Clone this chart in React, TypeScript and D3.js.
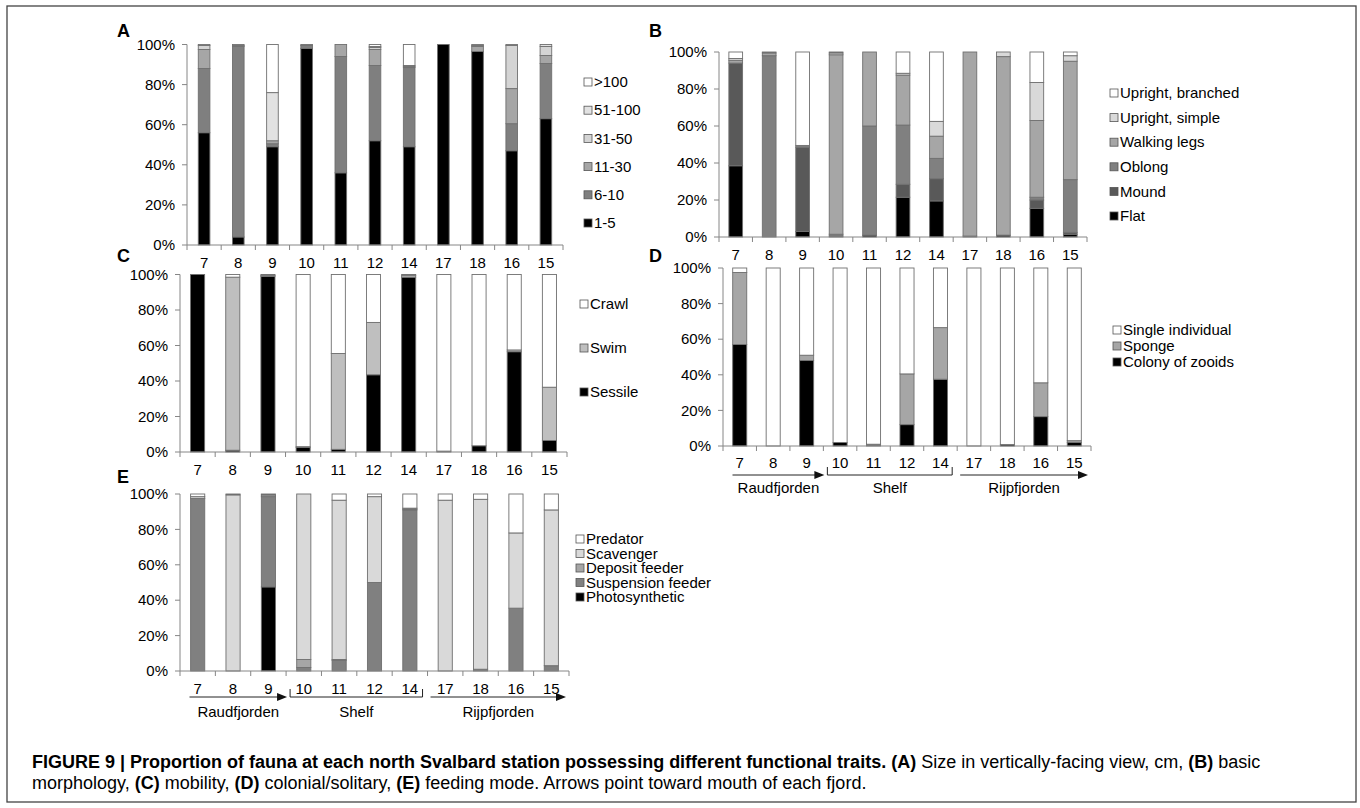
import React from "react";
import * as d3 from "d3";

// stations in plotted order
const STATIONS = ["7", "8", "9", "10", "11", "12", "14", "17", "18", "16", "15"];

// (A) size in vertically-facing view, cm
const SIZE_1_5 = [56, 4, 49, 98, 36, 52, 49, 100, 96.5, 47, 63];
const SIZE_6_10 = [32, 95, 1.5, 1.5, 58, 37.5, 39.5, 0, 0, 13.5, 27.5];
const SIZE_11_30 = [9.5, 0.5, 1.5, 0.5, 6, 8, 0.5, 0, 2.5, 17.5, 4];
const SIZE_31_50 = [2, 0.5, 0, 0, 0, 1, 0.5, 0, 0.5, 21.5, 4.5];
const SIZE_51_100 = [0.5, 0, 24, 0, 0, 0.5, 0, 0, 0.5, 0.5, 1];
const SIZE_OVER_100 = [0, 0, 24, 0, 0, 1, 10.5, 0, 0, 0, 0];

// (B) basic morphology
const FLAT = [38.5, 0, 3, 0, 1, 21.5, 19.5, 0, 1, 15.5, 1.5];
const MOUND = [55.5, 0, 45.5, 0.5, 0, 7, 12, 0, 0, 4.5, 1];
const OBLONG = [0, 98, 1, 1, 59, 32, 11, 0.5, 0, 1.5, 28.5];
const WALKING_LEGS = [1.5, 1.5, 0, 97, 40, 27, 12, 99.5, 96.5, 41.5, 64];
const UPRIGHT_SIMPLE = [1, 0, 0, 1, 0, 1, 8, 0, 2.5, 20.5, 3];
const UPRIGHT_BRANCHED = [3.5, 0.5, 50.5, 0.5, 0, 11.5, 37.5, 0, 0, 16.5, 2];

// (C) mobility
const SESSILE = [100, 1, 99, 2.5, 1.5, 43.5, 98.5, 0, 3.5, 56.5, 6.5];
const SWIM = [0, 97.5, 0.5, 0.5, 54, 29.5, 1, 0.5, 0, 1, 30];
const CRAWL = [0, 1.5, 0.5, 97, 44.5, 27, 0.5, 99.5, 96.5, 42.5, 63.5];

// (D) colonial / solitary
const COLONY = [57, 0, 48, 2, 0.5, 12, 37.5, 0, 0.8, 16.5, 2];
const SPONGE = [40.5, 0, 3, 0, 0.5, 28.5, 29, 0, 0, 19, 1];
const SINGLE = [2.5, 100, 49, 98, 99, 59.5, 33.5, 100, 99.2, 64.5, 97];

// (E) feeding mode
const PHOTOSYNTHETIC = [0, 0, 47.5, 0, 0, 0, 0, 0, 0, 0, 0];
const SUSPENSION = [97.5, 0, 51, 2, 6, 50, 91, 0, 1, 35.5, 3];
const DEPOSIT = [0, 0, 1, 4.5, 0.5, 0, 0.5, 0, 0, 0, 0];
const SCAVENGER = [1, 99.5, 0, 93.5, 90, 48.5, 0.5, 96.5, 96, 42.5, 88];
const PREDATOR = [1.5, 0.5, 0.5, 0, 3.5, 1.5, 8, 3.5, 3, 22, 9];

const Y_TICKS = [0, 20, 40, 60, 80, 100];

const GROUPS = [
  { name: "Raudfjorden", from: "7", to: "9", kind: "arrow" },
  { name: "Shelf", from: "10", to: "14", kind: "bracket" },
  { name: "Rijpfjorden", from: "17", to: "15", kind: "arrow" },
];

const FONT = "'Liberation Sans', Arial, Helvetica, sans-serif";
const AXIS_COLOR = "#868686";
const EDGE_COLOR = "#6f6f6f";

type Series = { name: string; color: string; values: number[] };

type PanelProps = {
  letter: string;
  letterX: number;
  letterY: number;
  series: Series[];
  x0: number;
  x1: number;
  yTop: number;
  yBot: number;
  barPad: number;
  labelY: number;
  legendX: number;
  legendY: number;
  legendDy: number;
  groupY?: number;
  groupLabelY?: number;
};

const StackPanel = (p: PanelProps) => {
  const xScale = d3
    .scaleBand<string>()
    .domain(STATIONS)
    .range([p.x0, p.x1])
    .paddingInner(p.barPad)
    .paddingOuter(p.barPad / 2);
  const yScale = d3.scaleLinear().domain([0, 100]).range([p.yBot, p.yTop]);
  const step = xScale.step();
  const cellStart = (s: string) => (xScale(s) ?? 0) - (step * p.barPad) / 2;

  const table = STATIONS.map((s, i) => {
    const row: Record<string, any> = { station: s };
    p.series.forEach((se) => (row[se.name] = se.values[i]));
    return row;
  });
  const stacked = d3.stack<Record<string, any>>().keys(p.series.map((s) => s.name))(table);

  const boundaries = d3.range(STATIONS.length + 1).map((i) => p.x0 + i * step);

  return (
    <g fontFamily={FONT}>
      <text x={p.letterX} y={p.letterY} fontSize={18} fontWeight="bold">
        {p.letter}
      </text>

      {stacked.map((layer, li) => (
        <g key={layer.key} fill={p.series[li].color}>
          {layer.map((d, j) =>
            d[1] - d[0] > 0 ? (
              <rect
                key={j}
                x={xScale(d.data.station)}
                y={yScale(d[1])}
                width={xScale.bandwidth()}
                height={yScale(d[0]) - yScale(d[1])}
                stroke={EDGE_COLOR}
                strokeWidth={0.9}
              />
            ) : null
          )}
        </g>
      ))}

      {/* y axis */}
      <line x1={p.x0} x2={p.x0} y1={p.yTop} y2={p.yBot} stroke={AXIS_COLOR} />
      {Y_TICKS.map((t) => (
        <g key={t}>
          <line x1={p.x0 - 5} x2={p.x0} y1={yScale(t)} y2={yScale(t)} stroke={AXIS_COLOR} />
          <text x={p.x0 - 12} y={yScale(t)} dy="0.35em" textAnchor="end" fontSize={15}>
            {t}%
          </text>
        </g>
      ))}

      {/* x axis */}
      <line x1={p.x0} x2={p.x1} y1={p.yBot} y2={p.yBot} stroke={AXIS_COLOR} />
      {boundaries.map((b, i) => (
        <line key={i} x1={b} x2={b} y1={p.yBot} y2={p.yBot + 5} stroke={AXIS_COLOR} />
      ))}
      {STATIONS.map((s) => (
        <text
          key={s}
          x={(xScale(s) ?? 0) + xScale.bandwidth() / 2}
          y={p.labelY}
          dy="0.35em"
          textAnchor="middle"
          fontSize={15}
        >
          {s}
        </text>
      ))}

      {/* legend */}
      {[...p.series].reverse().map((se, i) => (
        <g key={se.name} transform={`translate(${p.legendX},${p.legendY + i * p.legendDy})`}>
          <rect x={0} y={-4} width={8} height={8} fill={se.color} stroke="#555" strokeWidth={0.8} />
          <text x={10} y={0} dy="0.35em" fontSize={15}>
            {se.name}
          </text>
        </g>
      ))}

      {/* fjord groupings */}
      {p.groupY !== undefined &&
        GROUPS.map((g) => {
          const a = cellStart(g.from);
          const b = cellStart(g.to) + step;
          const gy = p.groupY as number;
          if (g.kind === "bracket") {
            const l = a + 4;
            const r = b - 5;
            return (
              <g key={g.name}>
                <path
                  d={`M${l},${gy - 8}V${gy}H${r}V${gy - 8}`}
                  fill="none"
                  stroke="#222"
                  strokeWidth={1}
                />
                <text x={(l + r) / 2} y={p.groupLabelY} dy="0.35em" textAnchor="middle" fontSize={15}>
                  {g.name}
                </text>
              </g>
            );
          }
          const l = g.from === "7" ? a + 9.5 : a + 3;
          const r = g.from === "7" ? b + 1 : b - 3;
          return (
            <g key={g.name}>
              <line x1={l} x2={r - 8} y1={gy} y2={gy} stroke="#222" strokeWidth={1} />
              <path d={`M${r},${gy}L${r - 10},${gy - 4}L${r - 10},${gy + 4}Z`} fill="#111" />
              <text x={(l + r) / 2} y={p.groupLabelY} dy="0.35em" textAnchor="middle" fontSize={15}>
                {g.name}
              </text>
            </g>
          );
        })}
    </g>
  );
};

const App = () => {
  const sizeSeries: Series[] = [
    { name: "1-5", color: "#000000", values: SIZE_1_5 },
    { name: "6-10", color: "#7f7f7f", values: SIZE_6_10 },
    { name: "11-30", color: "#a6a6a6", values: SIZE_11_30 },
    { name: "31-50", color: "#d4d4d4", values: SIZE_31_50 },
    { name: "51-100", color: "#e2e2e2", values: SIZE_51_100 },
    { name: ">100", color: "#ffffff", values: SIZE_OVER_100 },
  ];
  const morphSeries: Series[] = [
    { name: "Flat", color: "#000000", values: FLAT },
    { name: "Mound", color: "#595959", values: MOUND },
    { name: "Oblong", color: "#808080", values: OBLONG },
    { name: "Walking legs", color: "#a6a6a6", values: WALKING_LEGS },
    { name: "Upright, simple", color: "#d9d9d9", values: UPRIGHT_SIMPLE },
    { name: "Upright, branched", color: "#ffffff", values: UPRIGHT_BRANCHED },
  ];
  const mobilitySeries: Series[] = [
    { name: "Sessile", color: "#000000", values: SESSILE },
    { name: "Swim", color: "#bfbfbf", values: SWIM },
    { name: "Crawl", color: "#ffffff", values: CRAWL },
  ];
  const colonySeries: Series[] = [
    { name: "Colony of zooids", color: "#000000", values: COLONY },
    { name: "Sponge", color: "#a6a6a6", values: SPONGE },
    { name: "Single individual", color: "#ffffff", values: SINGLE },
  ];
  const feedSeries: Series[] = [
    { name: "Photosynthetic", color: "#000000", values: PHOTOSYNTHETIC },
    { name: "Suspension feeder", color: "#808080", values: SUSPENSION },
    { name: "Deposit feeder", color: "#a6a6a6", values: DEPOSIT },
    { name: "Scavenger", color: "#d9d9d9", values: SCAVENGER },
    { name: "Predator", color: "#ffffff", values: PREDATOR },
  ];

  return (
    <svg
      width={1360}
      height={808}
      style={{ position: "absolute", left: 0, top: 0, background: "#fff" }}
    >
      <rect x={7} y={6} width={1349} height={796} fill="#fff" stroke="#444" strokeWidth={1.3} />

      <StackPanel
        letter="A" letterX={117} letterY={37} series={sizeSeries}
        x0={187} x1={563} yTop={44.5} yBot={245} barPad={0.66} labelY={263}
        legendX={584} legendY={82} legendDy={28.2}
      />
      <StackPanel
        letter="B" letterX={649} letterY={37} series={morphSeries}
        x0={719} x1={1087} yTop={52} yBot={237} barPad={0.59} labelY={255}
        legendX={1110} legendY={93} legendDy={24.6}
      />
      <StackPanel
        letter="C" letterX={117} letterY={262} series={mobilitySeries}
        x0={180} x1={567} yTop={274.5} yBot={452} barPad={0.6} labelY={470}
        legendX={580} legendY={304} legendDy={44}
      />
      <StackPanel
        letter="D" letterX={649} letterY={262} series={colonySeries}
        x0={723} x1={1091} yTop={268} yBot={446} barPad={0.58} labelY={463}
        legendX={1113} legendY={330} legendDy={16}
        groupY={475} groupLabelY={488}
      />
      <StackPanel
        letter="E" letterX={117} letterY={483} series={feedSeries}
        x0={180} x1={569} yTop={494} yBot={671} barPad={0.6} labelY={689}
        legendX={576} legendY={539} legendDy={14.5}
        groupY={697} groupLabelY={712}
      />

      <g fontFamily={FONT} fontSize={18}>
        <text x={32} y={768}>
          <tspan fontWeight="bold">
            FIGURE 9 | Proportion of fauna at each north Svalbard station possessing different functional traits.
          </tspan>
          <tspan fontWeight="bold"> (A)</tspan>
          <tspan> Size in vertically-facing view, cm, </tspan>
          <tspan fontWeight="bold">(B)</tspan>
          <tspan> basic</tspan>
        </text>
        <text x={32} y={789}>
          <tspan>morphology, </tspan>
          <tspan fontWeight="bold">(C)</tspan>
          <tspan> mobility, </tspan>
          <tspan fontWeight="bold">(D)</tspan>
          <tspan> colonial/solitary, </tspan>
          <tspan fontWeight="bold">(E)</tspan>
          <tspan> feeding mode. Arrows point toward mouth of each fjord.</tspan>
        </text>
      </g>
    </svg>
  );
};

export default App;
